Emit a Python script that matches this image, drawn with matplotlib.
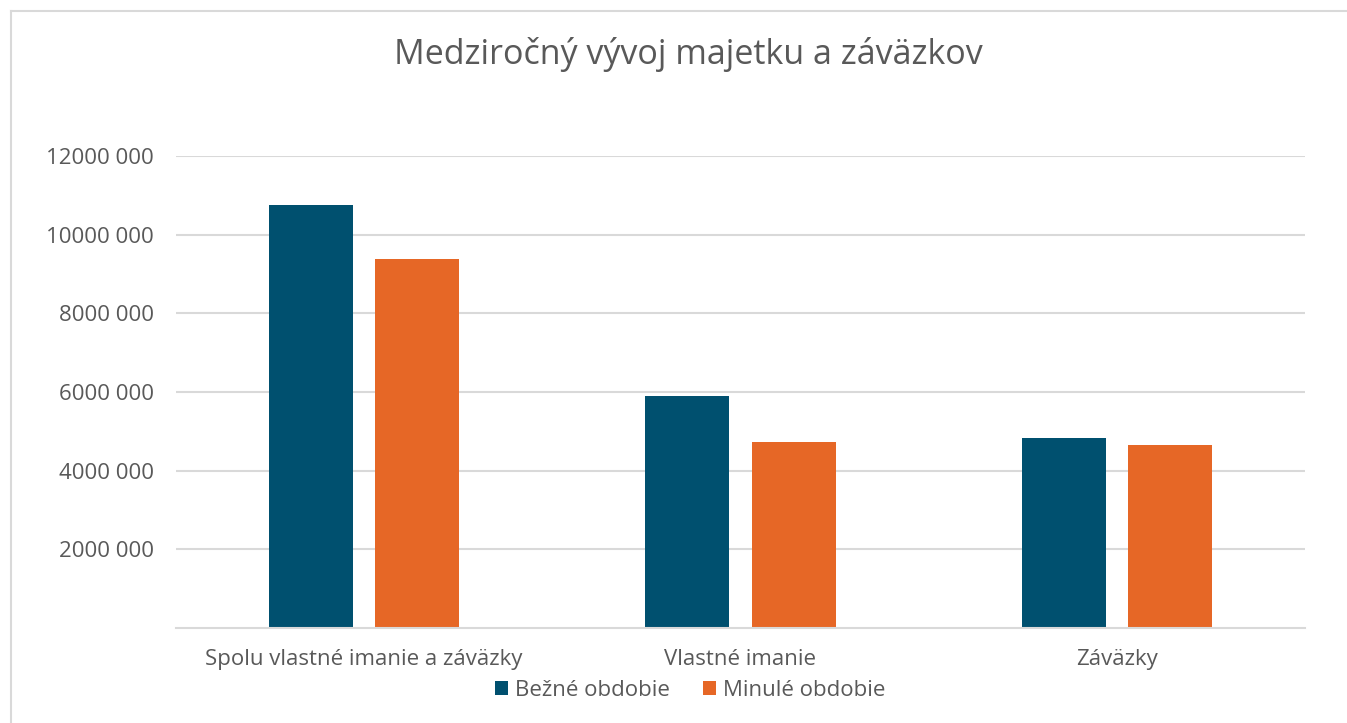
import matplotlib; matplotlib.use("Agg")
import matplotlib.pyplot as plt
from matplotlib.lines import Line2D
import numpy as np

categories = ["Spolu vlastné imanie a záväzky", "Vlastné imanie", "Záväzky"]
bezne = [10750000, 5900000, 4820000]
minule = [9380000, 4730000, 4660000]
series_names = ["Bežné obdobie", "Minulé obdobie"]
yticks = [2000000, 4000000, 6000000, 8000000, 10000000, 12000000]

plt.rcParams["font.family"] = ["Open Sans", "DejaVu Sans"]
txt = "#595959"
grid_c = "#d9d9d9"

fig = plt.figure(figsize=(13.47, 7.23), dpi=100)
ax = fig.add_axes([176/1347, 1-628/723, (1305-176)/1347, (628-156)/723])

x = np.arange(len(categories))
w, off = 0.223, 0.141
ax.bar(x - off, bezne, w, color="#00506F", label=series_names[0], zorder=3)
ax.bar(x + off, minule, w, color="#E66726", label=series_names[1], zorder=3)

ax.set_xlim(-0.5, 2.5)
ax.set_ylim(0, 12000000)
ax.set_yticks(yticks)
ax.set_yticklabels([f"{v // 1000} {v % 1000:03d}" for v in yticks])
ax.set_xticks(x)
ax.set_xticklabels(categories)
ax.tick_params(axis="both", length=0, colors=txt, labelsize=16)
ax.tick_params(axis="y", pad=16)
ax.tick_params(axis="x", pad=15)
ax.grid(axis="y", color=grid_c, lw=1.5, zorder=0)
for s in ["top", "right", "left"]:
    ax.spines[s].set_visible(False)
ax.spines["bottom"].set_color(grid_c)
ax.spines["bottom"].set_linewidth(1.5)
ax.spines["bottom"].set_zorder(4)

fig.text(688/1347, 1-55/723, "Medziročný vývoj majetku a záväzkov",
         ha="center", va="center", fontsize=24.5, color=txt)

ax.legend(loc="center", bbox_to_anchor=(690/1347, 1-690/723), bbox_transform=fig.transFigure,
          ncol=2, frameon=False, fontsize=16, labelcolor=txt, handlelength=0.6,
          handleheight=0.6, handletextpad=0.3, columnspacing=1.5)

# chart border (only left and top edge visible in the crop)
fig.add_artist(Line2D([11/1347, 11/1347], [0, 1-11/723], transform=fig.transFigure, color=grid_c, lw=1.5))
fig.add_artist(Line2D([11/1347, 1], [1-11/723, 1-11/723], transform=fig.transFigure, color=grid_c, lw=1.5))

fig.savefig("out.png", dpi=100)
